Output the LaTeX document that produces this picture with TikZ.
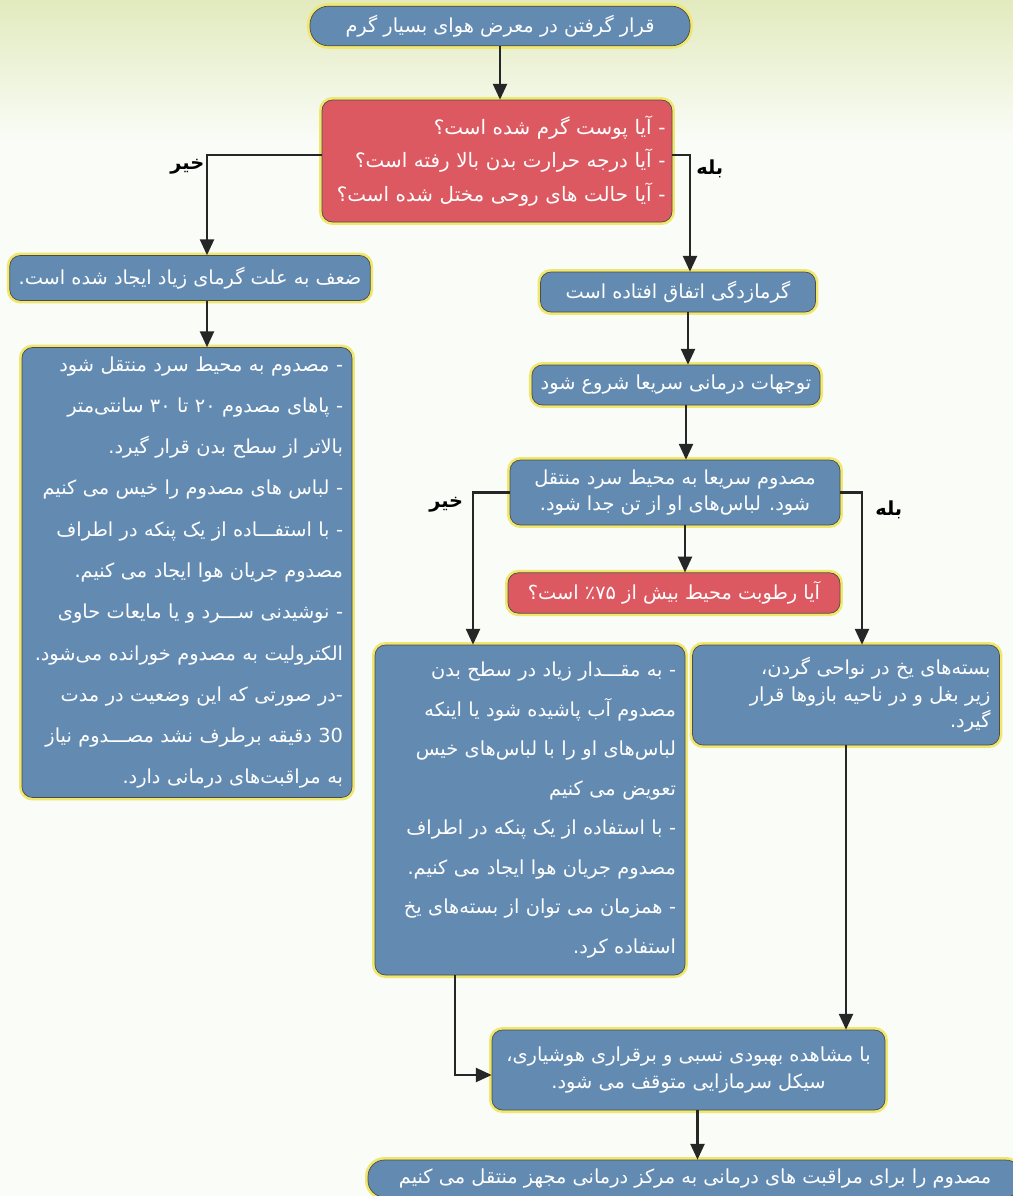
\documentclass[tikz,border=0pt]{standalone}
\usepackage{fontspec}
\usepackage{xcolor}
\newfontfamily\arabicfont[Script=Arabic]{DejaVu Sans}
\TeXXeTstate=1
\usetikzlibrary{
    arrows.meta,
    positioning
}

\definecolor{boxblue}{RGB}{99,139,178}
\definecolor{boxred}{RGB}{221,89,97}
\definecolor{glow}{RGB}{240,232,110}
\definecolor{bgtint}{RGB}{250,252,247}
\definecolor{topband}{RGB}{226,234,190}

\newcommand{\rtline}[1]{\beginR #1\endR}

\begin{document}
\begin{tikzpicture}[
    box/.style={
        rectangle,
        rounded corners=6pt,
        draw=black!70,
        thin,
        align=right,
        text=white,
        inner sep=5pt,
        fill=boxblue,
        font=\arabicfont\fontsize{11}{15}\selectfont,
        preaction={draw=glow, line width=3.4pt}
    },
    statebox/.style={
        box,
        fill=boxred
    },
    arrow/.style={
        -{Triangle[length=9pt,width=8pt]},
        line width=1.2pt,
        draw=black!85
    },
    note/.style={
        font=\arabicfont\bfseries\fontsize{11}{13}\selectfont,
        text=black,
        inner sep=1pt
    }
]

\useasboundingbox (0,0) rectangle (20.26,-23.92);
\fill[bgtint] (0,0) rectangle (20.26,-23.92);
\shade[top color=topband, bottom color=bgtint] (0,0) rectangle (20.26,-2.8);

% =========================================================
% Start and first check
% =========================================================
\node[box, rounded corners=0.37cm, minimum width=7.6cm, minimum height=0.74cm,
      align=center] (hot) at (10.0,-0.52)
{\rtline{قرار گرفتن در معرض هوای بسیار گرم}};

\node[statebox, minimum width=7.0cm, minimum height=2.44cm, text width=6.74cm,
      inner xsep=3pt, font=\arabicfont\fontsize{11.3}{19}\selectfont] (check) at (9.94,-3.22)
{\rtline{- آیا پوست گرم شده است؟}\\
 \rtline{- آیا درجه حرارت بدن بالا رفته است؟}\\
 \rtline{- آیا حالت های روحی مختل شده است؟}};

% =========================================================
% Left branch: heat exhaustion
% =========================================================
\node[box, minimum width=7.2cm, minimum height=0.9cm, align=center] (weak) at (3.8,-5.56)
{\rtline{ضعف به علت گرمای زیاد ایجاد شده است.}};

\node[box, minimum width=6.6cm, minimum height=8.98cm, text width=6.24cm,
      font=\arabicfont\fontsize{11}{23.5}\selectfont] (weakcare) at (3.74,-11.45)
{\rtline{- مصدوم به محیط سرد منتقل شود}\\
 \rtline{- پاهای مصدوم \beginL ۲۰\endL{} تا \beginL ۳۰\endL{} سانتی‌متر}\\
 \rtline{بالاتر از سطح بدن قرار گیرد.}\\
 \rtline{- لباس های مصدوم را خیس می کنیم}\\
 \rtline{- با استفـــاده از یک پنکه در اطراف}\\
 \rtline{مصدوم جریان هوا ایجاد می کنیم.}\\
 \rtline{- نوشیدنی ســـرد و یا مایعات حاوی}\\
 \rtline{الکترولیت به مصدوم خورانده می‌شود.}\\
 \rtline{-در صورتی که این وضعیت در مدت}\\
 \rtline{\beginL 30\endL{} دقیقه برطرف نشد مصـــدوم نیاز}\\
 \rtline{به مراقبت‌های درمانی دارد.}};

% =========================================================
% Right branch: heat stroke
% =========================================================
\node[box, minimum width=5.5cm, minimum height=0.8cm, align=center] (stroke) at (13.56,-5.84)
{\rtline{گرمازدگی اتفاق افتاده است}};

\node[box, minimum width=5.66cm, minimum height=0.8cm, align=center] (treat) at (13.52,-7.7)
{\rtline{توجهات درمانی سریعا شروع شود}};

\node[box, minimum width=6.6cm, minimum height=1.3cm, align=center] (cool) at (13.5,-9.85)
{\rtline{مصدوم سریعا به محیط سرد منتقل}\\
 \rtline{شود. لباس‌های او از تن جدا شود.}};

\node[statebox, minimum width=6.64cm, minimum height=0.68cm, align=center] (humid) at (13.48,-11.86)
{\rtline{آیا رطوبت محیط بیش از \beginL ٪۷۵\endL{} است؟}};

\node[box, minimum width=6.2cm, minimum height=6.6cm, text width=5.84cm,
      font=\arabicfont\fontsize{11}{22.5}\selectfont] (spray) at (10.6,-16.2)
{\rtline{- به مقـــدار زیاد در سطح بدن}\\
 \rtline{مصدوم آب پاشیده شود یا اینکه}\\
 \rtline{لباس‌های او را با لباس‌های خیس}\\
 \rtline{تعویض می کنیم}\\
 \rtline{- با استفاده از یک پنکه در اطراف}\\
 \rtline{مصدوم جریان هوا ایجاد می کنیم.}\\
 \rtline{- همزمان می توان از بسته‌های یخ}\\
 \rtline{استفاده کرد.}};

\node[box, minimum width=6.14cm, minimum height=2.0cm, text width=5.78cm,
      font=\arabicfont\fontsize{11}{15}\selectfont] (ice) at (16.92,-13.9)
{\rtline{بسته‌های یخ در نواحی گردن،}\\
 \rtline{زیر بغل و در ناحیه بازوها قرار}\\
 \rtline{گیرد.}};

% =========================================================
% Common end
% =========================================================
\node[box, minimum width=7.86cm, minimum height=1.6cm, align=center] (recover) at (13.77,-21.4)
{\rtline{با مشاهده بهبودی نسبی و برقراری هوشیاری،}\\
 \rtline{سیکل سرمازایی متوقف می شود.}};

\node[box, rounded corners=0.33cm, minimum width=13.08cm, minimum height=0.66cm,
      align=center] (transfer) at (13.9,-23.57)
{\rtline{مصدوم را برای مراقبت های درمانی به مرکز درمانی مجهز منتقل می کنیم}};

% =========================================================
% Arrows
% =========================================================
\draw[arrow] (hot.south) -- (hot.south |- check.north);

\draw[arrow] ([yshift=0.12cm]check.west) -| node[note, pos=0.5, anchor=north east, yshift=-1pt] {خیر}
    ([xshift=0.34cm]weak.north);
\draw[arrow] ([yshift=0.12cm]check.east) -| node[note, pos=0.5, anchor=north west, xshift=2pt, yshift=-1pt] {بله}
    ([xshift=0.24cm]stroke.north);

\draw[arrow] ([xshift=0.34cm]weak.south) -- ([xshift=0.34cm]weak.south |- weakcare.north);

\draw[arrow] ([xshift=2mm]stroke.south) -- ([xshift=2mm]stroke.south |- treat.north);
\draw[arrow] ([xshift=2mm]treat.south) -- ([xshift=2mm]treat.south |- cool.north);
\draw[arrow] ([xshift=2mm]cool.south) -- ([xshift=2mm]cool.south |- humid.north);

\draw[arrow] (cool.west) -| node[note, pos=0.5, anchor=north east, xshift=-4pt, yshift=-1pt] {خیر}
    ([xshift=-1.14cm]spray.north);
\draw[arrow] (cool.east) -| node[note, pos=0.5, anchor=north west, xshift=6pt, yshift=-3pt] {بله}
    ([xshift=0.32cm]ice.north);

\draw[arrow] ([xshift=-1.5cm]spray.south) |- ([yshift=-0.1cm]recover.west);
\draw[arrow] (ice.south) -- (ice.south |- recover.north);
\draw[arrow] ([xshift=0.18cm]recover.south) -- ([xshift=0.18cm]recover.south |- transfer.north);

\end{tikzpicture}
\end{document}
